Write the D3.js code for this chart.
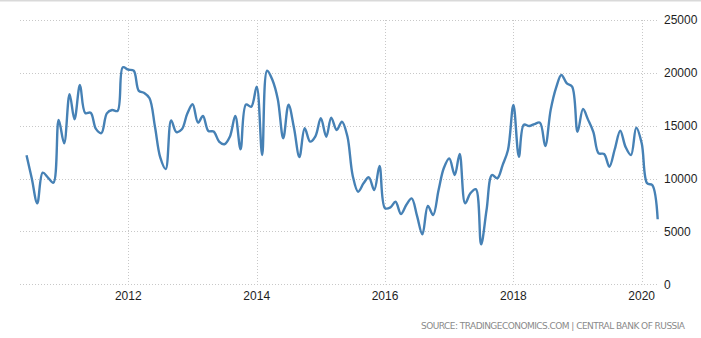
<!DOCTYPE html>
<html>
<head>
<meta charset="utf-8">
<script src="https://cdn.jsdelivr.net/npm/d3@7/dist/d3.min.js"></script>
<style>
  html, body { margin: 0; padding: 0; background: #fff; }
  svg { display: block; }
</style>
</head>
<body>
<script>
// Monthly series, first value is June 2010
const startMonth = "2010-06";
const values = [
  12200, 10000, 7660, 10560, 10100, 9610, 15540,
  13340, 17970, 15610, 18850, 16200, 16230, 14700, 14300, 16170, 16490, 16400, 20530,
  20300, 20200, 18300, 18100, 17600, 14900, 12000, 10900, 15500, 14400, 14660, 16100,
  17030, 15290, 15920, 14500, 14450, 13500, 13250, 13960, 15920, 12770, 17000, 16800,
  18690, 12230, 20200, 19300, 17500, 13810, 17000, 14800, 12040, 14760, 13500, 14000,
  15700, 13960, 15760, 14600, 15380, 14000, 10300, 8760, 9550, 10120, 8920, 11190,
  7200, 7280, 7810, 6650, 7500, 8130, 6500, 4730, 7410, 6560, 8920, 11000,
  11900, 10340, 12330, 7660, 8610, 9000, 3780, 7030, 10340, 10030, 11300, 12700,
  16960, 12070, 15100, 14970, 15160, 15290, 13080, 16500, 18600, 19800, 19000, 18700,
  14430, 16580, 15600, 14400, 12390, 12330, 11120, 12800, 14530, 13000, 12230, 14810,
  13340, 9550, 9390, 6150
];
const xTickLabels = ["2012", "2014", "2016", "2018", "2020"];
const yTicks = [0, 5000, 10000, 15000, 20000, 25000];
const sourceText = "SOURCE: TRADINGECONOMICS.COM | CENTRAL BANK OF RUSSIA";

const W = 701, H = 338;
const plotLeft = 20, plotRight = 657, plotTop = 20, plotBottom = 284.3;

const parseMonth = d3.timeParse("%Y-%m");
const first = parseMonth(startMonth);
const data = values.map((v, i) => ({ date: d3.timeMonth.offset(first, i), value: v }));

const x = d3.scaleTime()
  .domain([new Date(2010, 0, 1), new Date(2020, 0, 1)])
  .range([0, 641.7]);
const y = d3.scaleLinear().domain([0, 25000]).range([plotBottom, plotTop]);

const svg = d3.select("body").append("svg").attr("width", W).attr("height", H);

// top rule
svg.append("line")
  .attr("x1", 0).attr("x2", W).attr("y1", 0.5).attr("y2", 0.5)
  .attr("stroke", "#d9d9d9").attr("stroke-width", 2);

// horizontal grid
svg.append("g").selectAll("line").data(yTicks).join("line")
  .attr("x1", plotLeft).attr("x2", plotRight)
  .attr("y1", d => Math.round(y(d)) + 0.5).attr("y2", d => Math.round(y(d)) + 0.5)
  .attr("stroke", "#c8c8c8").attr("stroke-width", 1).attr("stroke-dasharray", "1,2");

// vertical grid
const xTickDates = xTickLabels.map(s => new Date(+s, 0, 1));
svg.append("g").selectAll("line").data(xTickDates).join("line")
  .attr("x1", d => Math.round(x(d)) + 0.5).attr("x2", d => Math.round(x(d)) + 0.5)
  .attr("y1", plotTop).attr("y2", plotBottom)
  .attr("stroke", "#c8c8c8").attr("stroke-width", 1).attr("stroke-dasharray", "1,2");

// y labels on the right
svg.append("g").selectAll("text").data(yTicks).join("text")
  .attr("x", 664).attr("y", d => y(d))
  .attr("dy", "0.35em")
  .attr("font-family", "'Liberation Sans', Arial, sans-serif")
  .attr("font-size", 12).attr("fill", "#1e1e1e")
  .text(d => String(d));

// x labels
svg.append("g").selectAll("text").data(xTickDates).join("text")
  .attr("x", d => x(d)).attr("y", 296)
  .attr("dy", "0.35em").attr("text-anchor", "middle")
  .attr("font-family", "'Liberation Sans', Arial, sans-serif")
  .attr("font-size", 12).attr("fill", "#1e1e1e")
  .text((d, i) => xTickLabels[i]);

// series line
const line = d3.line()
  .x(d => x(d.date)).y(d => y(d.value))
  .curve(d3.curveCatmullRom.alpha(0.5));
svg.append("path").datum(data)
  .attr("d", line)
  .attr("fill", "none").attr("stroke", "#4681b5")
  .attr("stroke-width", 2.4).attr("stroke-linejoin", "round");

// source note
svg.append("text")
  .attr("x", 685).attr("y", 326).attr("dy", "0.35em")
  .attr("text-anchor", "end")
  .attr("font-family", "'DejaVu Sans', sans-serif")
  .attr("font-size", 9).attr("fill", "#8a8a8a")
  .attr("textLength", 264).attr("lengthAdjust", "spacing")
  .text(sourceText);
</script>
</body>
</html>
